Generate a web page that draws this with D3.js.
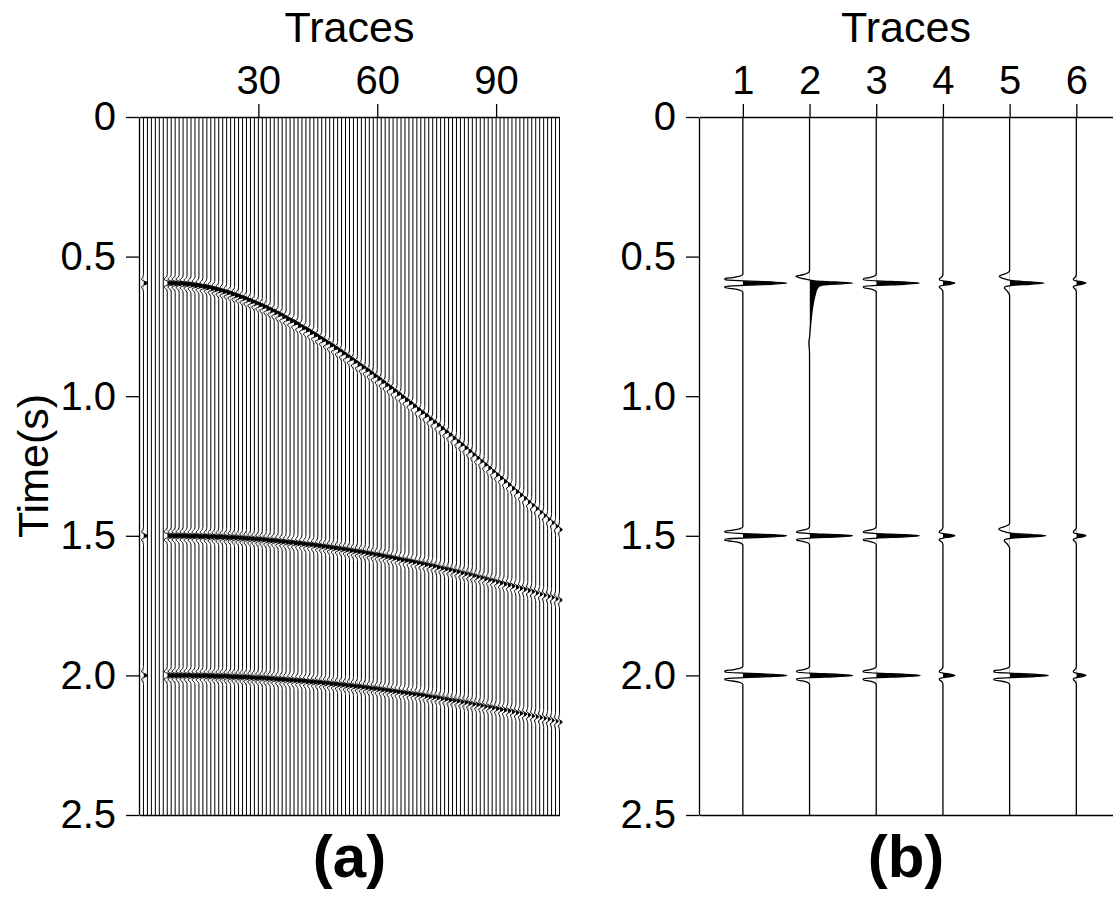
<!DOCTYPE html>
<html>
<head>
<meta charset="utf-8">
<script src="https://cdn.jsdelivr.net/npm/d3@7"></script>
<style>
body { margin: 0; background: #fff; }
svg text { font-family: "Liberation Sans", Arial, sans-serif; fill: #000; }
.axis path, .axis line { stroke: #000; stroke-width: 1.3; }
</style>
</head>
<body>
<svg id="chart" width="1113" height="898"></svg>
<script>
// ---- axes
var timeTicks = [0, 0.5, 1.0, 1.5, 2.0, 2.5];
var traceTicksA = [30, 60, 90];
var traceTicksB = [1, 2, 3, 4, 5, 6];

// ---- panel (a): 106 traces, trace 1 is the reference, 2-6 are dead
var tracesA = d3.range(1, 107);
var refTraceA = 1;
var refPicksA = [595, 1500, 2000];
var refGainA = 0.6;
var firstEventTraceA = 7;

// picks (ms) for traces 7..106
var picksA1 = [595,595,596,596,598,599,601,603,605,608,610,614,617,621,625,629,634,639,644,649,
  655,661,667,673,679,686,693,700,707,715,723,730,738,747,755,763,772,781,790,799,
  808,817,827,836,846,856,866,876,886,896,906,916,927,937,948,959,969,980,991,1002,
  1013,1024,1035,1047,1058,1069,1081,1092,1103,1115,1127,1138,1150,1162,1173,1185,1197,1209,1221,1233,
  1245,1257,1269,1281,1293,1305,1317,1330,1342,1354,1366,1379,1391,1403,1416,1428,1441,1453,1466,1478];
var picksA2 = [1500,1500,1500,1500,1500,1501,1501,1501,1502,1502,1503,1503,1504,1504,1505,1506,1506,1507,1508,1509,
  1510,1511,1512,1513,1514,1516,1517,1518,1520,1521,1523,1524,1526,1527,1529,1531,1532,1534,1536,1538,
  1540,1542,1544,1546,1548,1550,1553,1555,1557,1559,1562,1564,1567,1569,1572,1575,1577,1580,1583,1586,
  1588,1591,1594,1597,1600,1603,1606,1609,1613,1616,1619,1622,1626,1629,1633,1636,1639,1643,1647,1650,
  1654,1658,1661,1665,1669,1673,1676,1680,1684,1688,1692,1696,1700,1705,1709,1713,1717,1721,1726,1730];
var picksA3 = [2000,2000,2000,2000,2000,2000,2001,2001,2001,2001,2002,2002,2003,2003,2003,2004,2005,2005,2006,2006,
  2007,2008,2009,2009,2010,2011,2012,2013,2014,2015,2016,2017,2018,2019,2020,2022,2023,2024,2025,2027,
  2028,2030,2031,2033,2034,2036,2037,2039,2040,2042,2044,2046,2047,2049,2051,2053,2055,2057,2059,2061,
  2063,2065,2067,2069,2071,2074,2076,2078,2080,2083,2085,2088,2090,2092,2095,2097,2100,2103,2105,2108,
  2111,2113,2116,2119,2122,2124,2127,2130,2133,2136,2139,2142,2145,2148,2151,2154,2157,2161,2164,2167];
// amplitude fades with offset
var gainA = [1.00,0.99,0.99,0.98,0.98,0.97,0.96,0.96,0.95,0.95,0.94,0.93,0.93,0.92,0.92,0.91,0.90,0.90,0.89,0.88,
  0.88,0.87,0.87,0.86,0.85,0.85,0.84,0.84,0.83,0.82,0.82,0.81,0.81,0.80,0.79,0.79,0.78,0.78,0.77,0.76,
  0.76,0.75,0.75,0.74,0.73,0.73,0.72,0.72,0.71,0.70,0.70,0.69,0.68,0.68,0.67,0.67,0.66,0.65,0.65,0.64,
  0.64,0.63,0.62,0.62,0.61,0.61,0.60,0.59,0.59,0.58,0.58,0.57,0.56,0.56,0.55,0.55,0.54,0.53,0.53,0.52,
  0.52,0.51,0.50,0.50,0.49,0.48,0.48,0.47,0.47,0.46,0.45,0.45,0.44,0.44,0.43,0.42,0.42,0.41,0.41,0.40];

// ---- wavelets, [ms from pick, amplitude]
var rickerWave = [[-32,0],[-28,-0.03],[-24,-0.09],[-20,-0.24],[-16,-0.41],[-12,-0.40],[-8,0.01],[-4,0.66],[0,1],
  [4,0.66],[8,0.01],[12,-0.40],[16,-0.41],[20,-0.24],[24,-0.09],[28,-0.03],[32,0]];
var rickerSoft = [[-32,0],[-28,-0.02],[-24,-0.06],[-20,-0.16],[-16,-0.29],[-12,-0.30],[-8,0.01],[-4,0.66],[0,1],
  [4,0.66],[8,0.01],[12,-0.30],[16,-0.29],[20,-0.16],[24,-0.06],[28,-0.02],[32,0]];
var leadWave = [[-44,0],[-38,-0.05],[-32,-0.16],[-28,-0.26],[-24,-0.30],[-20,-0.26],[-14,-0.12],[-8,0.15],[-4,0.62],[0,1],
  [4,0.6],[8,0.08],[12,-0.1],[16,-0.15],[20,-0.14],[26,-0.09],[34,-0.04],[44,0]];
var tailWave = [[-44,0],[-36,-0.04],[-30,-0.15],[-25,-0.31],[-20,-0.24],[-14,-0.08],[-8,0.12],[-4,0.6],[0,0.98],
  [4,0.5],[8,0.26],[14,0.2],[24,0.16],[40,0.13],[60,0.1],[86,0.07],[110,0.05],[140,0.03],[170,0.012],[195,0],
  [212,-0.015],[232,-0.008],[250,0]];

// ---- panel (b): six traces, same three picks
var tracesB = [1, 2, 3, 4, 5, 6];
var picksB = [595, 1500, 2000];
var shapesB = [
  [rickerWave, rickerWave, rickerWave],
  [tailWave, rickerSoft, rickerSoft],
  [rickerSoft, rickerSoft, rickerSoft],
  [rickerSoft, rickerSoft, rickerSoft],
  [leadWave, leadWave, rickerWave],
  [rickerSoft, rickerSoft, rickerSoft]
];
var ampsB = [
  [1.00, 1.00, 1.00],
  [1.00, 0.98, 0.98],
  [0.98, 0.98, 1.00],
  [0.27, 0.27, 0.27],
  [0.78, 0.82, 0.88],
  [0.22, 0.22, 0.22]
];

var svg = d3.select("#chart");
var W = 1113;

var yT = d3.scaleLinear().domain([0, 2.5]).range([117, 815]);
var xA = d3.scaleLinear().domain([0, 106]).range([139.5, 559.5]);
var xB = d3.scaleLinear().domain([0.35, 6.55]).range([699.5, W]);
var ampA = d3.scaleLinear().domain([0, 1]).range([0, 7]);
var ampB = d3.scaleLinear().domain([0, 1]).range([0, 44]);

var fmtTime = function(d) { return d === 0 ? "0" : d3.format(".1f")(d); };

var defs = svg.append("defs");
var clipId = 0;

function traceSamples(events) {
    var pts = [[0, 0]];
    events.forEach(function(e) {
        e.wave.forEach(function(p) { pts.push([e.t + p[0], e.amp * p[1]]); });
    });
    pts.push([2500, 0]);
    return pts;
}

// one wiggle trace: positive lobes filled black, clipped at the baseline
function drawWiggle(g, base, pts, amp, sw) {
    var id = "clip" + (clipId++);
    defs.append("clipPath").attr("id", id)
        .append("rect")
        .attr("x", base).attr("y", yT(0))
        .attr("width", 60).attr("height", yT(2.5) - yT(0));

    var area = d3.area()
        .curve(d3.curveMonotoneY)
        .y(function(d) { return yT(d[0] / 1000); })
        .x0(base)
        .x1(function(d) { return base + amp(d[1]); });
    g.append("path")
        .attr("d", area(pts))
        .attr("clip-path", "url(#" + id + ")")
        .attr("fill", "#000");

    var line = d3.line()
        .curve(d3.curveMonotoneY)
        .y(function(d) { return yT(d[0] / 1000); })
        .x(function(d) { return base + amp(d[1]); });
    g.append("path")
        .attr("d", line(pts))
        .attr("fill", "none")
        .attr("stroke", "#000")
        .attr("stroke-width", sw);
}

// ---------- panel (a)
var gA = svg.append("g");
tracesA.forEach(function(n) {
    var ev = [];
    if (n === refTraceA) {
        ev = refPicksA.map(function(t) { return { t: t, amp: refGainA, wave: rickerWave }; });
    } else if (n >= firstEventTraceA) {
        var i = n - firstEventTraceA;
        ev = [picksA1[i], picksA2[i], picksA3[i]].map(function(t) {
            return { t: t, amp: gainA[i], wave: rickerWave };
        });
    }
    drawWiggle(gA, xA(n), traceSamples(ev), ampA, 1);
});

gA.append("g").attr("class", "axis")
    .attr("transform", "translate(139,0)")
    .call(d3.axisLeft(yT).tickValues(timeTicks).tickFormat(fmtTime)
        .tickSize(13).tickPadding(10).tickSizeOuter(0));
gA.append("g").attr("class", "axis")
    .attr("transform", "translate(0,117)")
    .call(d3.axisTop(xA).tickValues(traceTicksA)
        .tickSize(13).tickPadding(10).tickSizeOuter(0));
gA.append("g").attr("class", "axis")
    .attr("transform", "translate(0,815)")
    .call(d3.axisBottom(xA).tickValues([]).tickSizeOuter(0));

// ---------- panel (b)
var gB = svg.append("g");
tracesB.forEach(function(n, k) {
    var ev = picksB.map(function(t, j) {
        return { t: t, amp: ampsB[k][j], wave: shapesB[k][j] };
    });
    drawWiggle(gB, xB(n), traceSamples(ev), ampB, 1.3);
});

gB.append("g").attr("class", "axis")
    .attr("transform", "translate(699,0)")
    .call(d3.axisLeft(yT).tickValues(timeTicks).tickFormat(fmtTime)
        .tickSize(13).tickPadding(10).tickSizeOuter(0));
gB.append("g").attr("class", "axis")
    .attr("transform", "translate(0,117)")
    .call(d3.axisTop(xB).tickValues(traceTicksB).tickFormat(d3.format("d"))
        .tickSize(13).tickPadding(10).tickSizeOuter(0));
gB.append("g").attr("class", "axis")
    .attr("transform", "translate(0,815)")
    .call(d3.axisBottom(xB).tickValues([]).tickSizeOuter(0));

svg.selectAll(".axis text")
    .attr("font-size", 40)
    .style("font-family", '"Liberation Sans", Arial, sans-serif');

// ---------- titles
svg.append("text").attr("x", 349.5).attr("y", 42)
    .attr("text-anchor", "middle").attr("font-size", 43).text("Traces");
svg.append("text").attr("x", 906).attr("y", 42)
    .attr("text-anchor", "middle").attr("font-size", 43).text("Traces");
svg.append("text")
    .attr("transform", "translate(48," + yT(1.25) + ") rotate(-90)")
    .attr("text-anchor", "middle").attr("font-size", 43).text("Time(s)");
svg.append("text").attr("x", 349.5).attr("y", 877)
    .attr("text-anchor", "middle").attr("font-size", 60).attr("font-weight", "bold").text("(a)");
svg.append("text").attr("x", 906).attr("y", 877)
    .attr("text-anchor", "middle").attr("font-size", 60).attr("font-weight", "bold").text("(b)");
</script>
</body>
</html>
